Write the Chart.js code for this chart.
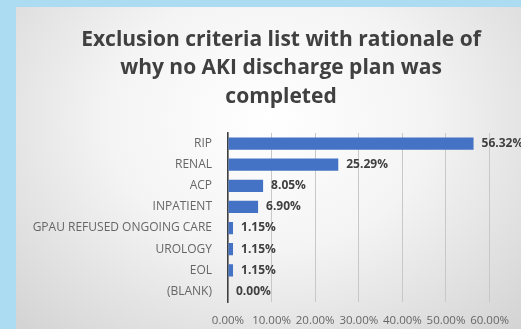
<!DOCTYPE html>
<html>
<head>
<meta charset="utf-8">
<script src="https://cdn.jsdelivr.net/npm/chart.js@4"></script>
<style>
  html, body { margin: 0; padding: 0; width: 521px; height: 329px; overflow: hidden; background: #abdcf1; }
  #panel {
    position: absolute; left: 16px; top: 7px; width: 505px; height: 322px;
    background: radial-gradient(ellipse 70% 90% at 50% 35%, #ffffff 0%, #f4f4f4 45%, #d4d4d4 100%);
  }
  #wrap { position: absolute; left: 0; top: 0; width: 521px; height: 329px; }
</style>
</head>
<body>
<div id="panel"></div>
<div id="wrap"><canvas id="aki"></canvas></div>
<script>
const categories = ['RIP', 'RENAL', 'ACP', 'INPATIENT', 'GPAU REFUSED ONGOING CARE', 'UROLOGY', 'EOL', '(BLANK)'];
const percentages = [56.32, 25.29, 8.05, 6.90, 1.15, 1.15, 1.15, 0.00];
const xTicks = [0, 10, 20, 30, 40, 50, 60];
const titleLines = ['Exclusion criteria list with rationale of', 'why no AKI discharge plan was', 'completed'];

// bar-end labels like Excel's data labels
const valueLabels = {
    id: 'valueLabels',
    afterDatasetsDraw(chart) {
        const ctx = chart.ctx;
        const meta = chart.getDatasetMeta(0);
        ctx.save();
        ctx.font = 'bold 12px "Open Sans"';
        ctx.fillStyle = '#404040';
        ctx.textBaseline = 'middle';
        meta.data.forEach(function(bar, i) {
            ctx.fillText(percentages[i].toFixed(2) + '%', bar.x + 8, bar.y);
        });
        ctx.restore();
    }
};

// title is centred on the slide panel, not on the chart box, so draw it here
const panelTitle = {
    id: 'panelTitle',
    afterDraw(chart) {
        const ctx = chart.ctx;
        ctx.save();
        ctx.font = 'bold 21px "Open Sans"';
        ctx.fillStyle = '#404040';
        ctx.textAlign = 'center';
        ctx.textBaseline = 'middle';
        titleLines.forEach(function(line, i) {
            ctx.fillText(line, 281, 40 + i * 28.3);
        });
        ctx.restore();
    }
};

const ctx = document.getElementById('aki').getContext('2d');
const akiChart = new Chart(ctx, {
    type: 'bar',
    data: {
        labels: categories,
        datasets: [{
            data: percentages,
            backgroundColor: '#4472C4',
            barPercentage: 0.58,
            categoryPercentage: 1
        }]
    },
    plugins: [valueLabels, panelTitle],
    options: {
        indexAxis: 'y',
        responsive: true,
        maintainAspectRatio: false,
        animation: false,
        layout: { padding: { left: 16, right: 19, top: 133, bottom: 0 } },
        plugins: {
            legend: { display: false },
            tooltip: { enabled: false },
            title: { display: false }
        },
        scales: {
            x: {
                min: 0,
                max: 60,
                afterBuildTicks: function(scale) {
                    scale.ticks = xTicks.map(v => ({ value: v }));
                },
                afterFit: function(scale) { scale.height = 27; },
                ticks: {
                    color: '#666666',
                    font: { family: 'Open Sans', size: 11.5 },
                    padding: 12,
                    maxRotation: 0,
                    autoSkip: false,
                    callback: v => v.toFixed(2) + '%'
                },
                grid: { color: '#c8c8c8', drawTicks: false },
                border: { display: false }
            },
            y: {
                afterFit: function(scale) { scale.width = 212; },
                ticks: {
                    color: '#666666',
                    font: { family: 'Open Sans', size: 12 },
                    padding: 8
                },
                grid: { display: false },
                border: { color: '#404040', width: 1.5 }
            }
        }
    }
});
</script>
</body>
</html>
